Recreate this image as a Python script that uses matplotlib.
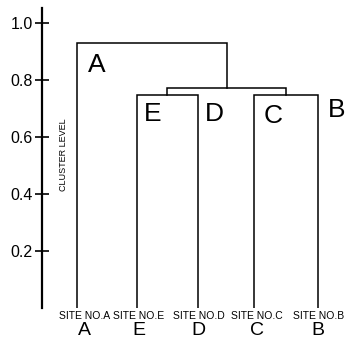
import matplotlib
matplotlib.use('Agg')
import matplotlib.pyplot as plt

# leaves, left to right, and where they sit along the axis
sites = ['A', 'E', 'D', 'C', 'B']
leaf_x = [0.0, 1.0, 2.0, 2.93, 4.0]

# cluster levels of the merges
level_ed = 0.747
level_cb = 0.749
level_edcb = 0.772
level_all = 0.930

y_ticks = [0.2, 0.4, 0.6, 0.8, 1.0]
y_tick_labels = ['0.2', '0.4', '0.6', '0.8', '1.0']

plt.rcParams['font.family'] = ['Liberation Sans', 'DejaVu Sans']

fig = plt.figure(figsize=(3.46, 3.47), dpi=100)
ax = fig.add_axes([0.1214, 0.112, 0.8786, 0.8646])
ax.set_xlim(-0.58, 4.46)
ax.set_ylim(0, 1.053)

lw = 1.1
col = 'black'

def link(x1, y1, x2, y2, top):
    # bracket joining two nodes at height top
    ax.plot([x1, x1, x2, x2], [y1, top, top, y2], color=col, lw=lw,
            solid_joinstyle='miter')

xa, xe, xd, xc, xb = leaf_x
link(xe, 0, xd, 0, level_ed)
link(xc, 0, xb, 0, level_cb)
mid_ed = (xe + xd) / 2
mid_cb = (xc + xb) / 2
link(mid_ed, level_ed, mid_cb, level_cb, level_edcb)
mid_edcb = (mid_ed + mid_cb) / 2
link(xa, 0, mid_edcb, level_edcb, level_all)

# axis
for s in ['top', 'right', 'bottom']:
    ax.spines[s].set_visible(False)
ax.spines['left'].set_linewidth(1.6)
ax.set_xticks([])
ax.set_yticks(y_ticks)
ax.set_yticklabels(y_tick_labels, fontsize=11.5)
ax.tick_params(axis='y', direction='inout', length=9.5, width=1.2, pad=2)

# labels under leaves
offs = [0.13, 0.02, 0.02, 0.05, 0.0]
for x, s, o in zip(leaf_x, sites, offs):
    ax.text(x + o, -0.028, 'SITE NO.' + s, ha='center', va='center',
            fontsize=7.5, clip_on=False)
    ax.text(x + o, -0.08, s, ha='center', va='center', fontsize=14,
            clip_on=False)

# cluster letters
letter_pos = {'A': (0.32, 0.853), 'E': (1.25, 0.68), 'D': (2.27, 0.68),
              'C': (3.25, 0.674), 'B': (4.3, 0.695)}
for s, (x, y) in letter_pos.items():
    ax.text(x, y, s, ha='center', va='center', fontsize=19)

ax.text(-0.22, 0.54, 'CLUSTER LEVEL', rotation=90, ha='center', va='center',
        fontsize=6.5)

fig.savefig('out.png', dpi=100)
